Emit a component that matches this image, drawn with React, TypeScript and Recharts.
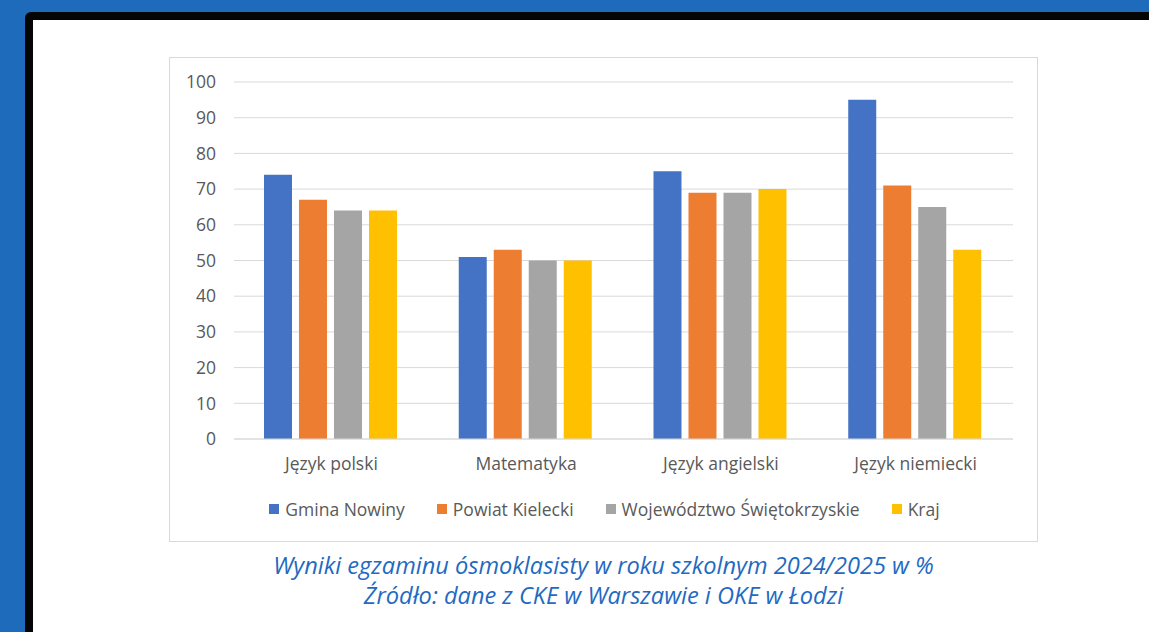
import React from 'react';
import { BarChart, Bar, XAxis, YAxis, CartesianGrid, Legend } from 'recharts';

const categories = ['Język polski', 'Matematyka', 'Język angielski', 'Język niemiecki'];
const gminaNowiny = [74, 51, 75, 95];
const powiatKielecki = [67, 53, 69, 71];
const wojewodztwo = [64, 50, 69, 65];
const kraj = [64, 50, 70, 53];
const yTicks = [0, 10, 20, 30, 40, 50, 60, 70, 80, 90, 100];

const seriesNames = ['Gmina Nowiny', 'Powiat Kielecki', 'Województwo Świętokrzyskie', 'Kraj'];
const seriesKeys = ['gmina', 'powiat', 'woj', 'kraj'];
const seriesColors = ['#4472C4', '#ED7D31', '#A5A5A5', '#FFC000'];

const data = categories.map((c, i) => ({
  name: c,
  gmina: gminaNowiny[i],
  powiat: powiatKielecki[i],
  woj: wojewodztwo[i],
  kraj: kraj[i],
}));

const FONT = '"Open Sans", "Liberation Sans", sans-serif';

const LegendContent = () => (
  <div style={{ display: 'flex', justifyContent: 'center', paddingLeft: 26, fontFamily: FONT, fontSize: 17.5, color: '#595959' }}>
    {seriesNames.map((n, i) => (
      <div key={n} style={{ display: 'flex', alignItems: 'center', margin: '0 16px' }}>
        <span style={{ display: 'inline-block', width: 10, height: 10, background: seriesColors[i], marginRight: 6 }} />
        <span>{n}</span>
      </div>
    ))}
  </div>
);

export default function App() {
  return (
    <div style={{ position: 'absolute', left: 0, top: 0, width: 1149, height: 632, background: '#1E6ABB', overflow: 'hidden' }}>
      <div style={{ position: 'absolute', left: 25, top: 12, width: 1140, height: 640, background: '#050505', borderTopLeftRadius: 6 }} />
      <div style={{ position: 'absolute', left: 33, top: 20, width: 1130, height: 630, background: '#FFFFFF' }} />
      <div style={{ position: 'absolute', left: 169, top: 57, width: 867, height: 483, border: '1px solid #D9D9D9', background: '#fff' }}>
        <BarChart
          width={867}
          height={483}
          data={data}
          margin={{ top: 24, right: 24, left: 0, bottom: 48 }}
          barCategoryGap="15.4%"
          barGap={7}
        >
          <CartesianGrid vertical={false} stroke="#D9D9D9" strokeWidth={1} />
          <XAxis
            dataKey="name"
            tickLine={false}
            axisLine={{ stroke: '#D9D9D9', strokeWidth: 1 }}
            tickSize={0}
            tickMargin={19}
            tick={{ fill: '#595959', fontSize: 17.5, fontFamily: FONT }}
          />
          <YAxis
            domain={[0, 100]}
            ticks={yTicks}
            width={64}
            tickLine={false}
            axisLine={false}
            tickSize={0}
            tickMargin={18}
            tick={{ fill: '#595959', fontSize: 17.5, fontFamily: FONT }}
          />
          <Legend
            verticalAlign="bottom"
            content={<LegendContent />}
            wrapperStyle={{ bottom: 20 }}
          />
          {seriesKeys.map((k, i) => (
            <Bar key={k} dataKey={k} name={seriesNames[i]} fill={seriesColors[i]} isAnimationActive={false} />
          ))}
        </BarChart>
      </div>
      <div
        style={{
          position: 'absolute',
          left: 169,
          width: 869,
          top: 550,
          textAlign: 'center',
          fontFamily: FONT,
          fontStyle: 'italic',
          fontSize: 23.6,
          lineHeight: '30px',
          color: '#1F6AC2',
        }}
      >
        <div>Wyniki egzaminu ósmoklasisty w roku szkolnym 2024/2025 w %</div>
        <div>Źródło: dane z CKE w Warszawie i OKE w Łodzi</div>
      </div>
    </div>
  );
}
